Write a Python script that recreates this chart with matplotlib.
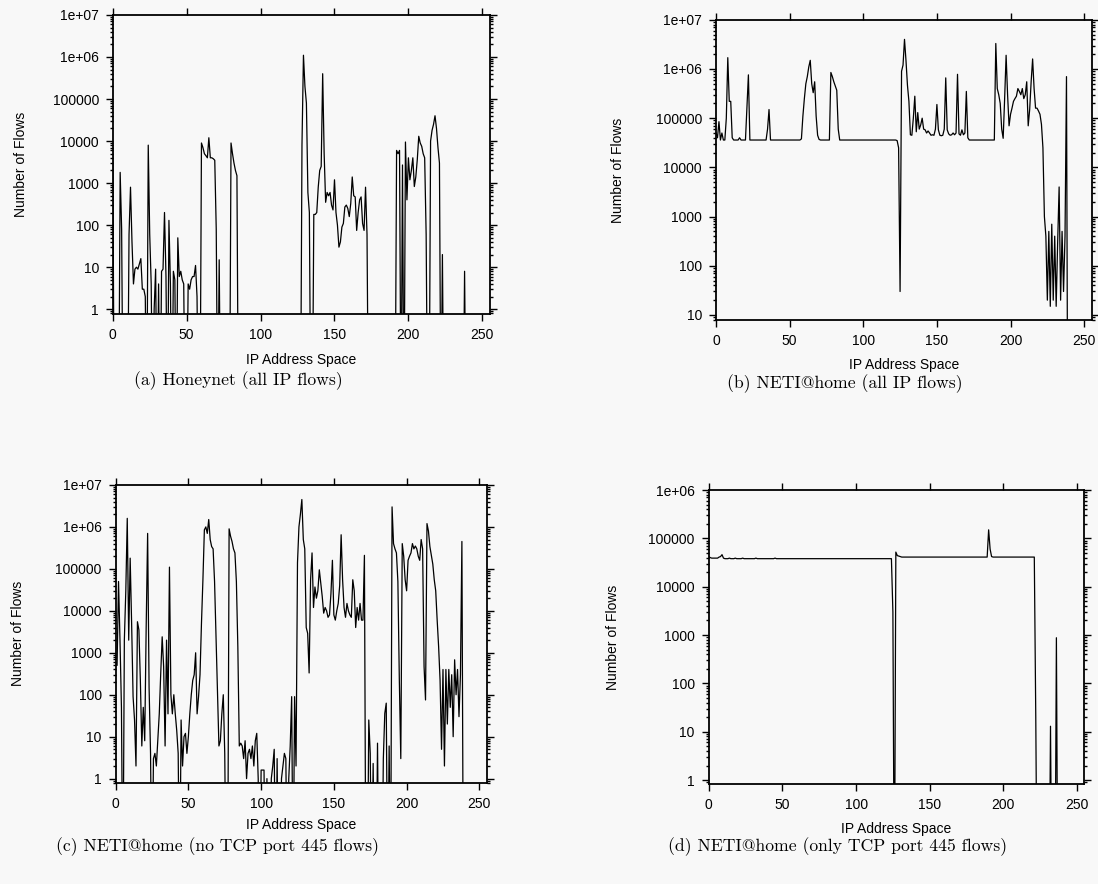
import matplotlib.pyplot as plt
import numpy as np
from matplotlib.ticker import FixedLocator, FuncFormatter, LogLocator, NullFormatter

# number of flows per /8 block of the IP address space (0 = no flows)
honeynet_all = [
    7000, 0, 0, 0, 0, 1800, 80, 0, 0, 0,
    0, 60, 800, 40, 4, 9, 10, 9, 12, 16,
    3, 3, 2, 0, 8000, 60, 4, 0, 1, 9,
    0, 4, 0, 8, 9, 200, 6, 0, 130, 4,
    0, 8, 5, 0, 50, 6, 8, 5, 4, 0,
    0, 4, 3, 5, 6, 6, 11, 2, 0, 0,
    9000, 7000, 5000, 4500, 4000, 12000, 4000, 4000, 3800, 3500,
    80, 0, 15, 0, 0, 0, 0, 0, 0, 0,
    9000, 5000, 3000, 2000, 1500, 0, 0, 0, 0, 0,
    0, 0, 0, 0, 0, 0, 0, 0, 0, 0,
    0, 0, 0, 0, 0, 0, 0, 0, 0, 0,
    0, 0, 0, 0, 0, 0, 0, 0, 0, 0,
    0, 0, 0, 0, 0, 0, 0, 0, 8000, 1.1e6,
    2e5, 8e4, 600, 200, 0, 0, 180, 180, 200, 800,
    2000, 2500, 4e5, 5000, 350, 600, 500, 600, 300, 230,
    1200, 200, 100, 30, 40, 90, 110, 270, 300, 250,
    160, 330, 1400, 500, 470, 75, 200, 400, 470, 110,
    75, 800, 60, 0, 0, 0, 0, 0, 0, 0,
    0, 0, 0, 0, 0, 0, 0, 0, 0, 0,
    0, 0, 6000, 5000, 6000, 0, 2700, 0, 9500, 400,
    4000, 1200, 2000, 4000, 830, 1400, 3600, 13000, 9000, 7500,
    5000, 4000, 60, 0, 0, 10000, 18000, 25000, 40000, 20000,
    7000, 3000, 0, 20, 0, 0, 0, 0, 0, 0,
    0, 0, 0, 0, 0, 0, 0, 0, 8, 0,
]

netihome_all = [
    5e4, 4e4, 8.5e4, 3.6e4, 5e4, 3.6e4, 3.6e4, 1e5, 1.7e6, 2.2e5,
    2.2e5, 4e4, 3.6e4, 3.6e4, 3.6e4, 3.6e4, 4e4, 3.6e4, 3.6e4, 3.6e4,
    3.6e4, 1.7e5, 7.6e5, 3.6e4, 3.6e4, 3.6e4, 3.6e4, 3.6e4, 3.6e4, 3.6e4,
    3.6e4, 3.6e4, 3.6e4, 3.6e4, 3.6e4, 6e4, 1.5e5, 3.6e4, 3.6e4, 3.6e4,
    3.6e4, 3.6e4, 3.6e4, 3.6e4, 3.6e4, 3.6e4, 3.6e4, 3.6e4, 3.6e4, 3.6e4,
    3.6e4, 3.6e4, 3.6e4, 3.6e4, 3.6e4, 3.6e4, 3.6e4, 3.6e4, 3.8e4, 1.1e5,
    2.5e5, 5e5, 7e5, 1.1e6, 1.5e6, 5e5, 3.3e5, 5.5e5, 1.1e5, 4.5e4,
    3.7e4, 3.6e4, 3.6e4, 3.6e4, 3.6e4, 3.6e4, 3.6e4, 3.6e4, 8.5e5, 7e5,
    5.5e5, 4.5e5, 3.7e5, 6e4, 3.6e4, 3.6e4, 3.6e4, 3.6e4, 3.6e4, 3.6e4,
    3.6e4, 3.6e4, 3.6e4, 3.6e4, 3.6e4, 3.6e4, 3.6e4, 3.6e4, 3.6e4, 3.6e4,
    3.6e4, 3.6e4, 3.6e4, 3.6e4, 3.6e4, 3.6e4, 3.6e4, 3.6e4, 3.6e4, 3.6e4,
    3.6e4, 3.6e4, 3.6e4, 3.6e4, 3.6e4, 3.6e4, 3.6e4, 3.6e4, 3.6e4, 3.6e4,
    3.6e4, 3.6e4, 3.6e4, 3.5e4, 2.5e4, 30, 9e5, 1.2e6, 4e6, 1.5e6,
    4.7e5, 2.2e5, 4.6e4, 4.5e4, 1e5, 2.8e5, 5.3e4, 1.3e5, 6e4, 7.3e4,
    1e5, 6e4, 5.8e4, 5e4, 5.5e4, 5e4, 4.5e4, 4.6e4, 4.5e4, 6e4,
    1.9e5, 5.8e4, 4.5e4, 4.4e4, 4.5e4, 6e4, 6.6e5, 5.8e4, 4.8e4, 4.5e4,
    4.6e4, 5e4, 4.6e4, 5e4, 7.8e5, 4.8e4, 4.5e4, 5.8e4, 4.6e4, 5e4,
    3.5e5, 4e4, 3.6e4, 3.6e4, 3.6e4, 3.6e4, 3.6e4, 3.6e4, 3.6e4, 3.6e4,
    3.6e4, 3.6e4, 3.6e4, 3.6e4, 3.6e4, 3.6e4, 3.6e4, 3.6e4, 3.6e4, 3.6e4,
    3.3e6, 4e5, 3e5, 2e5, 6e4, 3.9e4, 2.5e5, 1.9e6, 3e5, 7e4,
    1.2e5, 1.6e5, 2.2e5, 2.5e5, 2.8e5, 4e5, 3.5e5, 3e5, 4e5, 2.5e5,
    3e5, 5.5e5, 7e4, 1.5e5, 5.5e5, 1.6e6, 4e5, 1.6e5, 1.6e5, 1.4e5,
    1.2e5, 7.5e4, 2.5e4, 1000, 400, 20, 500, 15, 700, 20,
    400, 15, 300, 4000, 20, 500, 30, 400, 7e5, 0,
]

netihome_no445 = [
    600, 500, 5e4, 2000, 50, 0, 2000, 3e4, 1.6e6, 2000,
    1.8e5, 5000, 90, 25, 2, 5500, 3500, 220, 6, 50,
    8, 4000, 7e5, 150, 4, 0, 3, 4, 2, 8,
    35, 320, 2400, 470, 6, 2000, 35, 1.1e5, 100, 35,
    100, 35, 14, 4, 0, 25, 2, 10, 12, 4,
    10, 35, 100, 220, 300, 1000, 35, 90, 300, 5000,
    5.5e4, 8.5e5, 1e6, 7e5, 1.5e6, 5e5, 3.4e5, 3e5, 5e4, 2400,
    100, 6, 8, 35, 100, 4, 0, 0, 9e5, 6e5,
    4.5e5, 3e5, 2.4e5, 5e4, 1400, 6, 7, 6, 3, 8,
    1, 4, 5, 3, 6, 2, 8, 12, 1, 0,
    1.6, 1.6, 1.6, 0, 1, 0, 0, 1, 2, 5,
    0, 3, 0, 0, 1, 2, 4, 3, 0, 1,
    6, 90, 0, 90, 2, 1.4e5, 1e6, 2e6, 4.5e6, 5e5,
    3e5, 4000, 2900, 330, 5.5e4, 2.4e5, 1.2e4, 3.7e4, 2e4, 3e4,
    9.5e4, 4.5e4, 2.2e4, 8800, 1.2e4, 1e4, 7000, 8000, 2.6e4, 1.6e5,
    8000, 6000, 1e4, 1.5e4, 4e4, 6.5e5, 5.5e4, 1.2e4, 7000, 1.5e4,
    1e4, 8000, 7000, 5.5e4, 3e4, 4000, 1.2e4, 6000, 1.5e4, 6000,
    6000, 2.1e5, 0, 0, 25, 4, 0, 2.3, 0, 0,
    7, 0, 0, 0, 3, 36, 63, 0, 6, 0,
    3e6, 4e5, 3e5, 2.4e5, 5e4, 220, 3, 4e5, 2e5, 5.5e4,
    3e4, 1.6e5, 2e5, 2.4e5, 4e5, 3e5, 3.5e5, 3e5, 2e5, 1.6e5,
    5e5, 3e5, 470, 75, 1.2e6, 8e5, 3.4e5, 2.1e5, 1.3e5, 5.5e4,
    3e4, 6000, 1400, 220, 5, 400, 2, 400, 20, 400,
    50, 300, 10, 680, 100, 400, 30, 300, 4.5e5, 0,
]

netihome_only445 = [
    4.2e4, 4.0e4, 3.9e4, 3.9e4, 3.9e4, 3.9e4, 3.9e4, 4.1e4, 4.2e4, 4.6e4,
    3.9e4, 3.8e4, 3.8e4, 3.8e4, 3.9e4, 3.8e4, 3.8e4, 3.8e4, 3.9e4, 3.8e4,
    3.8e4, 3.8e4, 3.8e4, 3.9e4, 3.8e4, 3.8e4, 3.8e4, 3.8e4, 3.8e4, 3.8e4,
    3.8e4, 3.8e4, 3.9e4, 3.8e4, 3.8e4, 3.8e4, 3.8e4, 3.8e4, 3.8e4, 3.8e4,
    3.8e4, 3.8e4, 3.8e4, 3.8e4, 3.8e4, 3.9e4, 3.8e4, 3.8e4, 3.8e4, 3.8e4,
    3.8e4, 3.8e4, 3.8e4, 3.8e4, 3.8e4, 3.8e4, 3.8e4, 3.8e4, 3.8e4, 3.8e4,
    3.8e4, 3.8e4, 3.8e4, 3.8e4, 3.8e4, 3.8e4, 3.8e4, 3.8e4, 3.8e4, 3.8e4,
    3.8e4, 3.8e4, 3.8e4, 3.8e4, 3.8e4, 3.8e4, 3.8e4, 3.8e4, 3.8e4, 3.8e4,
    3.8e4, 3.8e4, 3.8e4, 3.8e4, 3.8e4, 3.8e4, 3.8e4, 3.8e4, 3.8e4, 3.8e4,
    3.8e4, 3.8e4, 3.8e4, 3.8e4, 3.8e4, 3.8e4, 3.8e4, 3.8e4, 3.8e4, 3.8e4,
    3.8e4, 3.8e4, 3.8e4, 3.8e4, 3.8e4, 3.8e4, 3.8e4, 3.8e4, 3.8e4, 3.8e4,
    3.8e4, 3.8e4, 3.8e4, 3.8e4, 3.8e4, 3.8e4, 3.8e4, 3.8e4, 3.8e4, 3.8e4,
    3.8e4, 3.8e4, 3.8e4, 3.8e4, 3.8e4, 3000, 0, 5.2e4, 4.4e4, 4.3e4,
    4.2e4, 4.1e4, 4.1e4, 4.1e4, 4.1e4, 4.1e4, 4.1e4, 4.1e4, 4.1e4, 4.1e4,
    4.1e4, 4.1e4, 4.1e4, 4.1e4, 4.1e4, 4.1e4, 4.1e4, 4.1e4, 4.1e4, 4.1e4,
    4.1e4, 4.1e4, 4.1e4, 4.1e4, 4.1e4, 4.1e4, 4.1e4, 4.1e4, 4.1e4, 4.1e4,
    4.1e4, 4.1e4, 4.1e4, 4.1e4, 4.1e4, 4.1e4, 4.1e4, 4.1e4, 4.1e4, 4.1e4,
    4.1e4, 4.1e4, 4.1e4, 4.1e4, 4.1e4, 4.1e4, 4.1e4, 4.1e4, 4.1e4, 4.1e4,
    4.1e4, 4.1e4, 4.1e4, 4.1e4, 4.1e4, 4.1e4, 4.1e4, 4.1e4, 4.1e4, 4.1e4,
    1.5e5, 6e4, 4.2e4, 4.1e4, 4.1e4, 4.1e4, 4.1e4, 4.1e4, 4.1e4, 4.1e4,
    4.1e4, 4.1e4, 4.1e4, 4.1e4, 4.1e4, 4.1e4, 4.1e4, 4.1e4, 4.1e4, 4.1e4,
    4.1e4, 4.1e4, 4.1e4, 4.1e4, 4.1e4, 4.1e4, 4.1e4, 4.1e4, 4.1e4, 4.1e4,
    4.1e4, 4.1e4, 20, 0, 0, 0, 0, 0, 0, 0,
    0, 0, 13, 0, 0, 0, 880, 0, 0, 0,
]

x_ticks = [0, 50, 100, 150, 200, 250]
captions = [
    "(a) Honeynet (all IP flows)",
    "(b) NETI@home (all IP flows)",
    "(c) NETI@home (no TCP port 445 flows)",
    "(d) NETI@home (only TCP port 445 flows)",
]

sans = ["Liberation Sans", "DejaVu Sans"]
serif = ["cmr10", "DejaVu Serif"]
bg = "#f8f8f8"


def flow_label(v, pos):
    if v >= 1e6:
        return "1e+%02d" % int(round(np.log10(v)))
    return "%d" % round(v)


def draw_panel(ax, counts, ylim, yticks):
    y = np.asarray(counts, dtype=float)
    x = np.arange(len(y))
    # zero counts fall off the bottom of the log axis
    y = np.where(y > 0, y, 1e-3)
    ax.plot(x, y, color="black", lw=0.9)
    ax.set_yscale("log")
    ax.set_xlim(0, 255)
    ax.set_ylim(*ylim)
    ax.set_facecolor(bg)
    ax.xaxis.set_major_locator(FixedLocator(x_ticks))
    ax.yaxis.set_major_locator(FixedLocator(yticks))
    ax.yaxis.set_major_formatter(FuncFormatter(flow_label))
    ax.yaxis.set_minor_locator(LogLocator(base=10, subs=np.arange(2, 10)))
    ax.yaxis.set_minor_formatter(NullFormatter())
    ax.tick_params(which="both", direction="out", top=True, right=True,
                   labelsize=10, width=1.0)
    ax.tick_params(which="major", length=5, pad=5)
    ax.tick_params(which="minor", length=2.5)
    for lab in ax.get_xticklabels() + ax.get_yticklabels():
        lab.set_family(sans)
    for s in ax.spines.values():
        s.set_linewidth(1.3)
    ax.set_xlabel("IP Address Space", family=sans, fontsize=10)
    ax.set_ylabel("Number of Flows", family=sans, fontsize=10)


fig = plt.figure(figsize=(10.98, 8.84), dpi=100, facecolor=bg)

panels = [
    ([0.1027, 0.6445, 0.3433, 0.3386], honeynet_all, (0.76, 1e7),
     [1, 10, 100, 1e3, 1e4, 1e5, 1e6, 1e7], (-0.226, -0.128), (238, 381)),
    ([0.6521, 0.6380, 0.3420, 0.3396], netihome_all, (7.9, 1e7),
     [10, 100, 1e3, 1e4, 1e5, 1e6, 1e7], (-0.242, -0.128), (845, 384)),
    ([0.1053, 0.1146, 0.3379, 0.3368], netihome_no445, (0.8, 1e7),
     [1, 10, 100, 1e3, 1e4, 1e5, 1e6, 1e7], (-0.244, -0.118), (218, 847)),
    ([0.6455, 0.1131, 0.3421, 0.3326], netihome_only445, (0.83, 1e6),
     [1, 10, 100, 1e3, 1e4, 1e5, 1e6], (-0.236, -0.128), (838, 847)),
]

for (rect, counts, ylim, yticks, labpos, cappos), cap in zip(panels, captions):
    ax = fig.add_axes(rect)
    draw_panel(ax, counts, ylim, yticks)
    ax.yaxis.set_label_coords(labpos[0], 0.5)
    ax.xaxis.set_label_coords(0.5, labpos[1])
    fig.text(cappos[0] / 1098, 1 - cappos[1] / 884, cap, family=serif,
             fontsize=12.7, ha="center", va="center")

fig.savefig("out.png", dpi=100, facecolor=bg)
